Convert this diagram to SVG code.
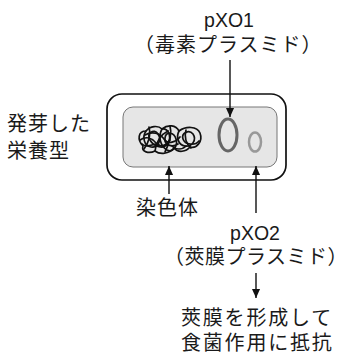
<svg xmlns="http://www.w3.org/2000/svg" width="339" height="354" viewBox="0 0 339 354">
  <style>
    .jp { font-family: "Noto Sans CJK JP", "Noto Sans", sans-serif; font-size: 20px; fill: #1a1a1a; letter-spacing: 1px; }
    .lat { font-family: "Liberation Sans", Arial, sans-serif; font-size: 19.5px; fill: #1a1a1a; }
    .conn { stroke: #111; stroke-width: 1.4; fill: none; }
    .tangle { stroke: #111; stroke-width: 1.7; fill: none; stroke-linecap: round; stroke-linejoin: round; }
  </style>
  <defs>
    <marker id="head" viewBox="0 0 10 10" refX="10" refY="5" markerWidth="10" markerHeight="9" markerUnits="userSpaceOnUse" orient="auto">
      <path d="M0,0.5 L10,5 L0,9.5 Z" fill="#111"/>
    </marker>
  </defs>

  <!-- germinated vegetative cell -->
  <g id="cell">
    <rect x="107" y="94" width="179" height="86" rx="15" fill="#fff" stroke="#111" stroke-width="1.7"/>
    <rect x="123" y="107" width="154" height="60" rx="10" fill="#e6e6e6" stroke="#777" stroke-width="1"/>
  </g>

  <!-- chromosome: tangled strand -->
  <g id="chromosome" class="tangle">
    <path d="M143,146 C137,140 138,131 146,131 C150,126 158,125 162,129 C168,124 176,125 179,131 C186,126 197,126 200,133 C203,141 197,149 190,147 C186,152 178,153 174,148 C169,154 160,155 155,151 C149,154 141,152 143,146"/>
    <path d="M146,131 C142,137 144,146 151,147 C158,148 162,140 158,134 C154,128 146,133 150,140 C154,147 164,150 168,143 C172,136 168,128 162,129"/>
    <path d="M162,129 C158,136 160,146 167,150 C173,153 178,146 176,139 C174,132 166,131 165,138 C164,145 172,148 178,144"/>
    <path d="M179,131 C176,137 178,145 185,146 C192,147 197,140 193,134 C189,129 181,133 183,139 C185,145 195,146 199,141"/>
    <path d="M140,140 C146,136 152,138 156,143 C160,148 166,146 170,140 M149,127 C151,134 149,142 144,149"/>
    <path d="M155,151 C156,143 160,135 168,131 M170,126 C172,133 170,142 165,152"/>
    <path d="M145,135 C152,131 160,133 164,139 C168,145 176,142 180,137 M186,130 C184,137 186,144 191,148"/>
    <path d="M142,144 C148,150 156,140 160,146 M172,146 C176,150 182,150 186,146"/>
  </g>

  <!-- pXO1 (toxin plasmid) -->
  <g id="pXO1">
    <ellipse cx="228" cy="135" rx="9" ry="16" fill="none" stroke="#666" stroke-width="3"/>
    <text class="lat" x="229" y="27" text-anchor="middle">pXO1</text>
    <text class="jp" x="134" y="52">（毒素プラスミド）</text>
  </g>

  <!-- pXO2 (capsule plasmid) -->
  <g id="pXO2">
    <ellipse cx="255" cy="142" rx="6" ry="9.5" fill="none" stroke="#999" stroke-width="2.5"/>
    <text class="lat" x="255" y="240" text-anchor="middle">pXO2</text>
    <text class="jp" x="164" y="264" style="letter-spacing:0.5px">（莢膜プラスミド）</text>
  </g>

  <!-- labels -->
  <g id="label-cell">
    <text class="jp" x="7" y="131">発芽した</text>
    <text class="jp" x="7" y="158">栄養型</text>
  </g>
  <g id="label-chromosome">
    <text class="jp" x="136" y="215">染色体</text>
  </g>
  <g id="label-capsule">
    <text class="jp" x="181" y="325" style="letter-spacing:1.8px">莢膜を形成して</text>
    <text class="jp" x="181" y="350" style="letter-spacing:1.8px">食菌作用に抵抗</text>
  </g>

  <!-- connectors -->
  <g id="connectors" class="conn">
    <line x1="230" y1="60" x2="230" y2="117" marker-end="url(#head)"/>
    <line x1="169" y1="194" x2="169" y2="166" marker-end="url(#head)"/>
    <line x1="256" y1="213" x2="256" y2="166" marker-end="url(#head)"/>
    <line x1="256" y1="273" x2="256" y2="298" marker-end="url(#head)"/>
  </g>
</svg>
